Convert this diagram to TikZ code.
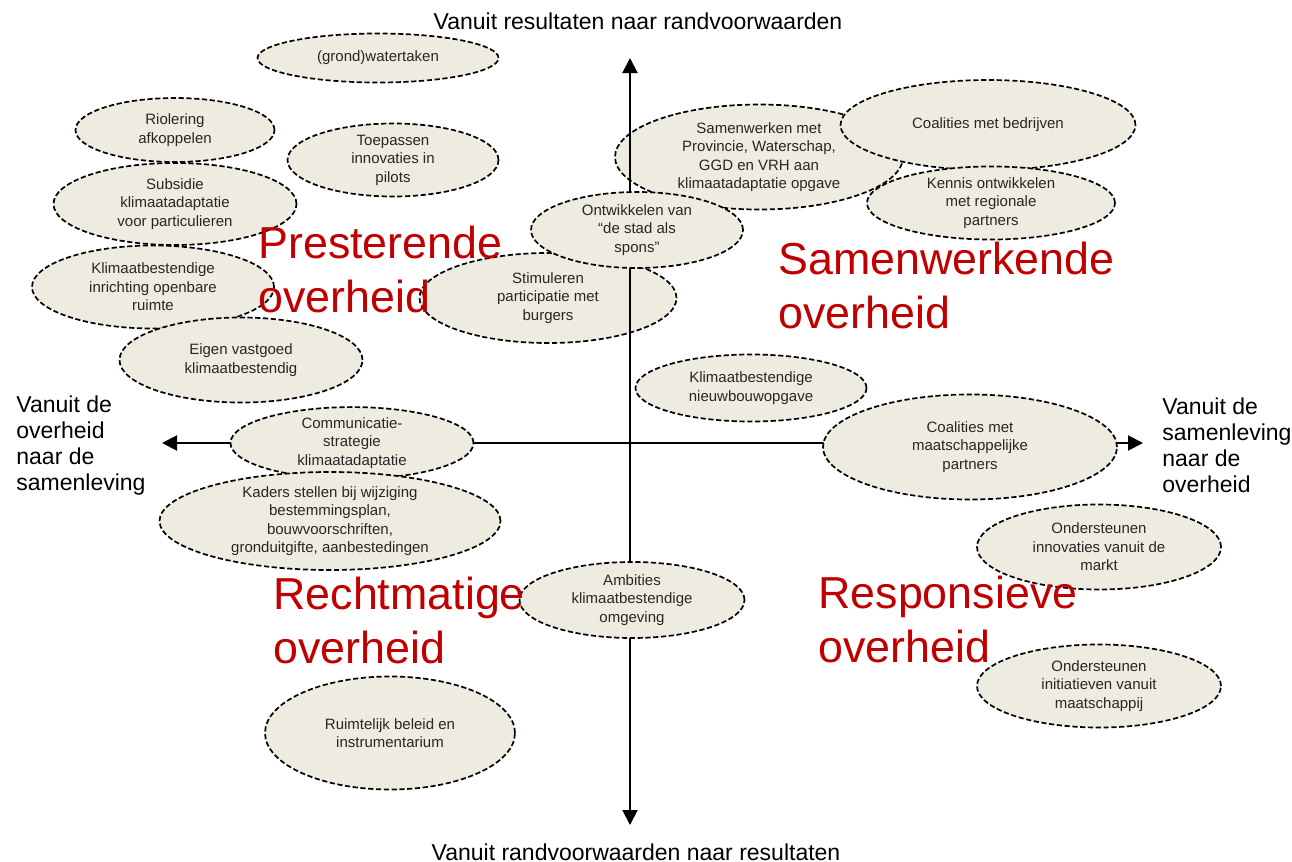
\documentclass[tikz,border=0pt]{standalone}
\usepackage{fontspec}
\setmainfont{Liberation Sans}
\usetikzlibrary{shapes.geometric,arrows.meta}
\definecolor{blobfill}{HTML}{EEECE1}
\definecolor{govred}{HTML}{C00000}

\begin{document}
\begin{tikzpicture}[x=0.5pt, y=-0.5pt,
    blob/.style 2 args={ellipse, draw=black, line width=0.85pt, dash pattern=on 2.6pt off 1.3pt,
        fill=blobfill, inner sep=0pt, minimum width=#1*0.5pt, minimum height=#2*0.5pt,
        align=center, text=black!85, font=\fontsize{7.5}{9.2}\selectfont},
    axis/.style={line width=1pt, {Triangle[length=7.5pt,width=7.5pt]}-{Triangle[length=7.5pt,width=7.5pt]}},
    axislabel/.style={inner sep=0pt, align=left, font=\fontsize{11.5}{13}\selectfont},
    quadrant/.style={inner sep=0pt, align=left, anchor=north west, text=govred,
        font=\fontsize{22.4}{27}\selectfont}]
    \useasboundingbox (0,0) rectangle (1292,862);

    \coordinate (axtop) at (630,58);
    \coordinate (axbot) at (630,825);
    \coordinate (axwest) at (162,443);
    \coordinate (axeast) at (1143,443);

    \node[blob={288}{105}] (samen) at (759,157) {Samenwerken met\\Provincie, Waterschap,\\GGD en VRH  aan\\klimaatadaptatie opgave};
    \node[blob={257}{90}] (stim) at (548,298) {Stimuleren\\participatie met\\burgers};

    \draw[axis] (axbot) -- (axtop);
    \draw[axis] (axwest) -- (axeast);

    \node[blob={241}{49}] (grond) at (378,58) {(grond)watertaken};
    \node[blob={199}{64}] (riol) at (175,130) {Riolering\\afkoppelen};
    \node[blob={211}{73}] (toep) at (393,160) {Toepassen\\innovaties in\\pilots};
    \node[blob={243}{82}] (subs) at (175,204) {Subsidie\\klimaatadaptatie\\voor particulieren};
    \node[blob={242}{83}] (inricht) at (153,287) {Klimaatbestendige\\inrichting openbare\\ruimte};
    \node[blob={243}{85}] (eigen) at (241,360) {Eigen vastgoed\\klimaatbestendig};
    \node[blob={212}{76}] (ontw) at (637,230) {Ontwikkelen van\\“de stad als\\spons”};
    \node[blob={231}{67}] (nieuw) at (751,388) {Klimaatbestendige\\nieuwbouwopgave};
    \node[blob={295}{90}] (bedr) at (988,125) {Coalities met bedrijven};
    \node[blob={248}{73}] (kennis) at (991,203) {Kennis ontwikkelen\\met regionale\\partners};
    \node[blob={243}{60}] (comm) at (352,443) {Communicatie-\\strategie\\klimaatadaptatie};
    \node[blob={341}{98}] (kaders) at (330,521) {Kaders stellen bij wijziging\\bestemmingsplan,\\bouwvoorschriften,\\gronduitgifte, aanbestedingen};
    \node[blob={294}{105}] (maat) at (970,447) {Coalities met\\maatschappelijke\\partners};
    \node[blob={244}{85}] (innov) at (1099,547) {Ondersteunen\\innovaties vanuit de\\markt};
    \node[blob={244}{83}] (init) at (1099,686) {Ondersteunen\\initiatieven vanuit\\maatschappij};
    \node[blob={225}{76}] (amb) at (632,600) {Ambities\\klimaatbestendige\\omgeving};
    \node[blob={250}{113}] (ruimte) at (390,733) {Ruimtelijk beleid en\\instrumentarium};

    \node[axislabel, anchor=north] (ltop) at (638,12) {Vanuit resultaten naar randvoorwaarden};
    \node[axislabel, anchor=north] (lbot) at (636,843) {Vanuit randvoorwaarden naar resultaten};
    \node[axislabel, anchor=north west] (lwest) at (16,395) {Vanuit de\\overheid\\naar de\\samenleving};
    \node[axislabel, anchor=north west] (least) at (1162,397) {Vanuit de\\samenleving\\naar de\\overheid};

    \node[quadrant] (prest) at (258,226) {Presterende\\overheid};
    \node[quadrant] (samw) at (778,242) {Samenwerkende\\overheid};
    \node[quadrant] (recht) at (273,577) {Rechtmatige\\overheid};
    \node[quadrant] (resp) at (818,576) {Responsieve\\overheid};
\end{tikzpicture}
\end{document}
